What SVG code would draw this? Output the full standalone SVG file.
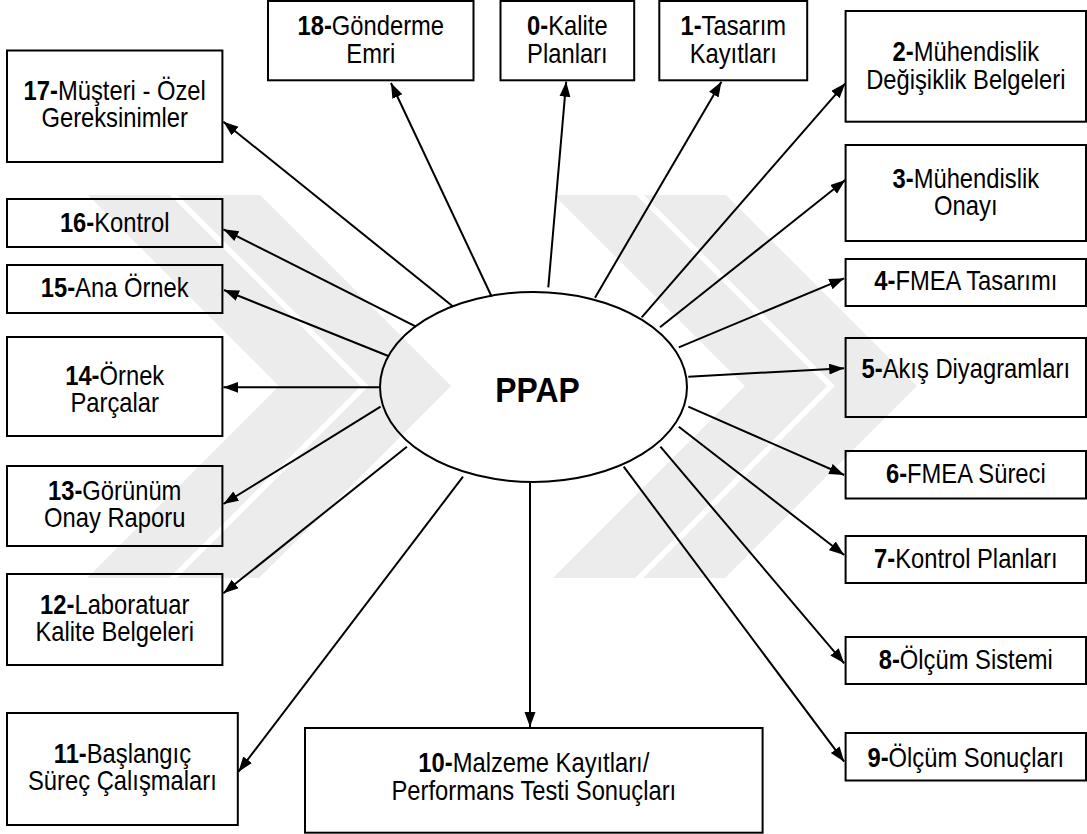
<svg xmlns="http://www.w3.org/2000/svg" width="1087" height="834" viewBox="0 0 1087 834">
<defs>
<marker id="ah" markerUnits="userSpaceOnUse" markerWidth="16" markerHeight="12" refX="15" refY="5.5" orient="auto"><path d="M0,0 L15,5.5 L0,11 z" fill="#000"/></marker>
<clipPath id="wmclip"><rect x="0" y="195" width="1087" height="383"/></clipPath>
</defs>
<style>
.box{fill:#fff;stroke:#000;stroke-width:2}
.t{font-family:"Liberation Sans",Arial,sans-serif;font-size:27px;fill:#000;text-anchor:middle}
.b{font-weight:bold}
.c line{stroke:#000;stroke-width:2;marker-end:url(#ah)}
.wm polyline{fill:none;stroke:#000;stroke-width:58;stroke-linejoin:miter;stroke-miterlimit:10}
</style>
<rect width="1087" height="834" fill="#fff"/>
<g id="n18"><rect class="box" x="268" y="1" width="205.5" height="79.3"/><text class="t" transform="translate(370.75 0) scale(0.88 1)"><tspan x="0" y="35"><tspan class="b">18-</tspan>Gönderme</tspan><tspan x="0" y="63">Emri</tspan></text></g>
<g id="n0"><rect class="box" x="500.5" y="1" width="133.7" height="79.3"/><text class="t" transform="translate(567.35 0) scale(0.88 1)"><tspan x="0" y="35"><tspan class="b">0-</tspan>Kalite</tspan><tspan x="0" y="63">Planları</tspan></text></g>
<g id="n1"><rect class="box" x="659.3" y="1" width="147.9" height="79.3"/><text class="t" transform="translate(733.25 0) scale(0.88 1)"><tspan x="0" y="35"><tspan class="b">1-</tspan>Tasarım</tspan><tspan x="0" y="63">Kayıtları</tspan></text></g>
<g id="n2"><rect class="box" x="845.6" y="11" width="240.4" height="110.7"/><text class="t" transform="translate(965.8 0) scale(0.88 1)"><tspan x="0" y="61.5"><tspan class="b">2-</tspan>Mühendislik</tspan><tspan x="0" y="89">Değişiklik Belgeleri</tspan></text></g>
<g id="n3"><rect class="box" x="845.6" y="145" width="240.4" height="96"/><text class="t" transform="translate(965.8 0) scale(0.88 1)"><tspan x="0" y="188"><tspan class="b">3-</tspan>Mühendislik</tspan><tspan x="0" y="215">Onayı</tspan></text></g>
<g id="n4"><rect class="box" x="845.6" y="259" width="240.4" height="47"/><text class="t" transform="translate(965.8 0) scale(0.88 1)"><tspan x="0" y="290.5"><tspan class="b">4-</tspan>FMEA Tasarımı</tspan></text></g>
<g id="n5"><rect class="box" x="845.6" y="338" width="240.4" height="79"/><text class="t" transform="translate(965.8 0) scale(0.88 1)"><tspan x="0" y="378"><tspan class="b">5-</tspan>Akış Diyagramları</tspan></text></g>
<g id="n6"><rect class="box" x="845.6" y="451" width="240.4" height="47.5"/><text class="t" transform="translate(965.8 0) scale(0.88 1)"><tspan x="0" y="483"><tspan class="b">6-</tspan>FMEA Süreci</tspan></text></g>
<g id="n7"><rect class="box" x="845.6" y="536" width="240.4" height="47"/><text class="t" transform="translate(965.8 0) scale(0.88 1)"><tspan x="0" y="568"><tspan class="b">7-</tspan>Kontrol Planları</tspan></text></g>
<g id="n8"><rect class="box" x="845.6" y="637" width="240.4" height="47"/><text class="t" transform="translate(965.8 0) scale(0.88 1)"><tspan x="0" y="668.7"><tspan class="b">8-</tspan>Ölçüm Sistemi</tspan></text></g>
<g id="n9"><rect class="box" x="845.6" y="733" width="240.4" height="47.5"/><text class="t" transform="translate(965.8 0) scale(0.88 1)"><tspan x="0" y="767"><tspan class="b">9-</tspan>Ölçüm Sonuçları</tspan></text></g>
<g id="n10"><rect class="box" x="305" y="728" width="457.6" height="104.7"/><text class="t" transform="translate(533.8 0) scale(0.88 1)"><tspan x="0" y="772.5"><tspan class="b">10-</tspan>Malzeme Kayıtları/</tspan><tspan x="0" y="800.5">Performans Testi Sonuçları</tspan></text></g>
<g id="n11"><rect class="box" x="7" y="713" width="230.8" height="112"/><text class="t" transform="translate(122.4 0) scale(0.88 1)"><tspan x="0" y="763"><tspan class="b">11-</tspan>Başlangıç</tspan><tspan x="0" y="790.5">Süreç Çalışmaları</tspan></text></g>
<g id="n12"><rect class="box" x="7" y="574" width="215.4" height="91"/><text class="t" transform="translate(114.7 0) scale(0.88 1)"><tspan x="0" y="614"><tspan class="b">12-</tspan>Laboratuar</tspan><tspan x="0" y="641.5">Kalite Belgeleri</tspan></text></g>
<g id="n13"><rect class="box" x="7" y="466" width="215.4" height="80"/><text class="t" transform="translate(114.7 0) scale(0.88 1)"><tspan x="0" y="500"><tspan class="b">13-</tspan>Görünüm</tspan><tspan x="0" y="527.5">Onay Raporu</tspan></text></g>
<g id="n14"><rect class="box" x="7" y="337" width="215.4" height="99"/><text class="t" transform="translate(114.7 0) scale(0.88 1)"><tspan x="0" y="385"><tspan class="b">14-</tspan>Örnek</tspan><tspan x="0" y="412.5">Parçalar</tspan></text></g>
<g id="n15"><rect class="box" x="7" y="265" width="215.4" height="48"/><text class="t" transform="translate(114.7 0) scale(0.88 1)"><tspan x="0" y="297.5"><tspan class="b">15-</tspan>Ana Örnek</tspan></text></g>
<g id="n16"><rect class="box" x="7" y="199" width="215.4" height="48"/><text class="t" transform="translate(114.7 0) scale(0.88 1)"><tspan x="0" y="232"><tspan class="b">16-</tspan>Kontrol</tspan></text></g>
<g id="n17"><rect class="box" x="7" y="50.5" width="215.4" height="111.5"/><text class="t" transform="translate(114.7 0) scale(0.88 1)"><tspan x="0" y="100"><tspan class="b">17-</tspan>Müşteri - Özel</tspan><tspan x="0" y="127.5">Gereksinimler</tspan></text></g>
<g id="ppap"><ellipse cx="533.5" cy="387" rx="153.5" ry="95" fill="#fff" stroke="#000" stroke-width="2"/><text class="t b" transform="translate(537.5 0) scale(0.885 1)" style="font-size:36px"><tspan x="0" y="402.5">PPAP</tspan></text></g>
<g id="connectors" class="c">
<line x1="453.3" y1="306.7" x2="223.4" y2="121.7"/>
<line x1="416" y1="326.7" x2="223.4" y2="229.3"/>
<line x1="388.3" y1="356" x2="224" y2="290"/>
<line x1="379" y1="387.3" x2="223.4" y2="387.3"/>
<line x1="380.6" y1="406.7" x2="223.4" y2="504"/>
<line x1="406.9" y1="446.7" x2="223.4" y2="593.3"/>
<line x1="463" y1="476.7" x2="238.5" y2="771.7"/>
<line x1="530" y1="483" x2="530" y2="727"/>
<line x1="623.7" y1="466.7" x2="844.2" y2="761.7"/>
<line x1="660.4" y1="446.7" x2="844.2" y2="663.3"/>
<line x1="678.8" y1="426.7" x2="844.2" y2="555"/>
<line x1="688.3" y1="406.7" x2="844.2" y2="475"/>
<line x1="688.3" y1="376.7" x2="844.2" y2="368.3"/>
<line x1="678.8" y1="347.3" x2="844.2" y2="278.3"/>
<line x1="660" y1="327.3" x2="845.3" y2="180"/>
<line x1="641.7" y1="317.3" x2="845.3" y2="83.3"/>
<line x1="595" y1="297.7" x2="721.4" y2="81.7"/>
<line x1="548.3" y1="287.3" x2="566.2" y2="81.7"/>
<line x1="491.7" y1="296.7" x2="391" y2="83"/>
</g>
<g id="watermark" class="wm" clip-path="url(#wmclip)" opacity="0.07">
<polyline points="94,160 320,386 94,612"/>
<polyline points="184,160 410,386 184,612"/>
<polyline points="560,160 786,386 560,612"/>
<polyline points="650,160 876,386 650,612"/>
</g>
</svg>
